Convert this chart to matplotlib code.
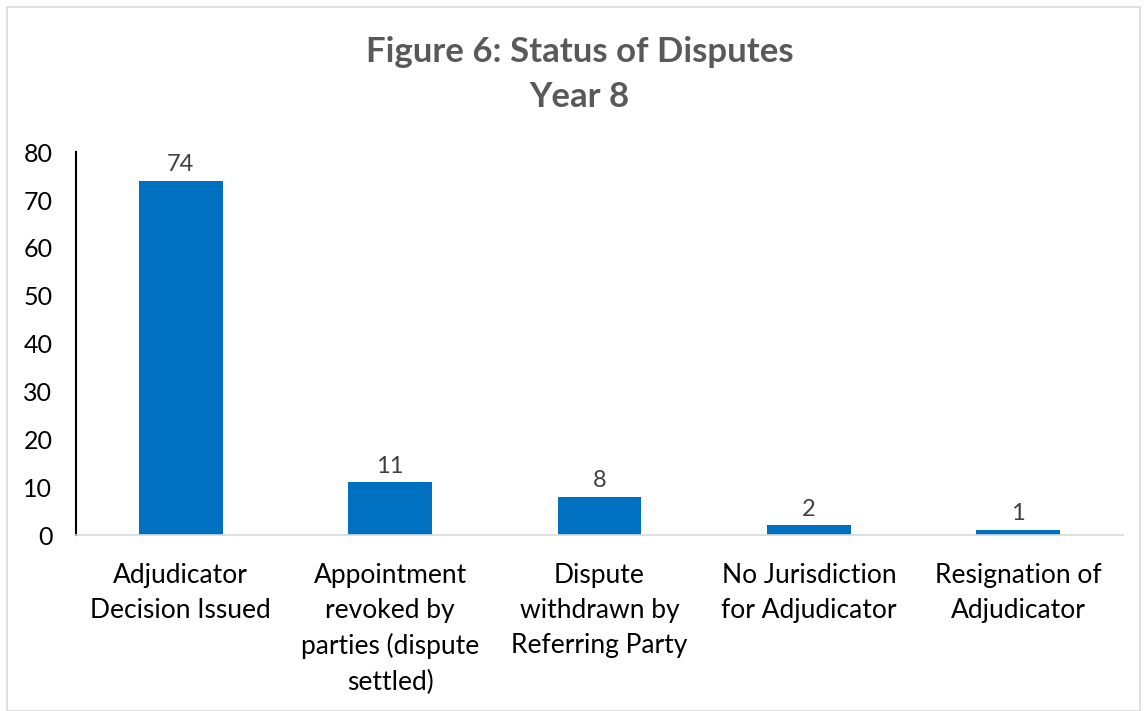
import matplotlib.pyplot as plt
from matplotlib.patches import Rectangle

categories = [
    "Adjudicator\nDecision Issued",
    "Appointment\nrevoked by\nparties (dispute\nsettled)",
    "Dispute\nwithdrawn by\nReferring Party",
    "No Jurisdiction\nfor Adjudicator",
    "Resignation of\nAdjudicator",
]
counts = [74, 11, 8, 2, 1]
y_ticks = [0, 10, 20, 30, 40, 50, 60, 70, 80]

plt.rcParams['font.family'] = ['Lato', 'DejaVu Sans']

fig = plt.figure(figsize=(11.48, 7.11), dpi=100)
ax = fig.add_axes([0.0662, 0.2475, 0.912, 0.5385])

# light grey frame around the whole chart
fig.patches.append(Rectangle((0.006, 0.0), 0.987, 0.99, transform=fig.transFigure,
                             fill=False, edgecolor='#d9d9d9', linewidth=1.2))

x = range(len(categories))
bars = ax.bar(x, counts, width=0.4, color='#0070C0')

for b, v in zip(bars, counts):
    ax.text(b.get_x() + b.get_width() / 2, v + 1.2, str(v), ha='center', va='bottom',
            fontsize=17, color='#404040')

ax.set_xlim(-0.5, len(categories) - 0.5)
ax.set_ylim(0, 80)
ax.set_yticks(y_ticks)
ax.tick_params(axis='y', labelsize=18, length=0, pad=17)
ax.set_xticks(list(x))
ax.set_xticklabels(categories, fontsize=19, linespacing=1.5, va='top')
ax.tick_params(axis='x', length=0, pad=20)

ax.spines['top'].set_visible(False)
ax.spines['right'].set_visible(False)
ax.spines['left'].set_color('black')
ax.spines['left'].set_linewidth(1.5)
ax.spines['bottom'].set_color('#d9d9d9')
ax.spines['bottom'].set_linewidth(1.2)

fig.text(0.505, 0.927, "Figure 6: Status of Disputes", ha='center', va='center',
         fontsize=25, fontweight='bold', color='#595959')
fig.text(0.505, 0.864, "Year 8", ha='center', va='center',
         fontsize=25, fontweight='bold', color='#595959')

fig.savefig('out.png', dpi=100)
